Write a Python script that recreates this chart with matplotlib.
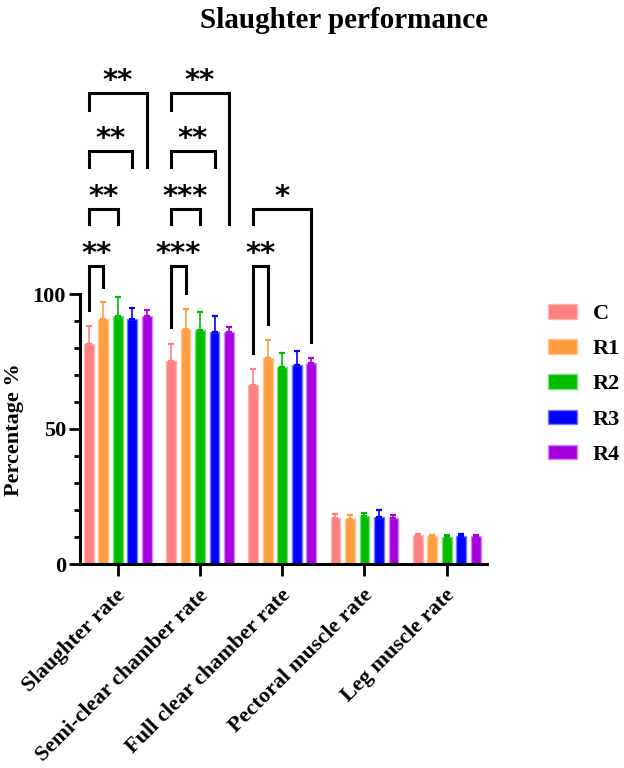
import numpy as np
import matplotlib
matplotlib.use('Agg')
import matplotlib.pyplot as plt
from matplotlib.patches import Patch
from matplotlib.transforms import ScaledTranslation

plt.rcParams['font.family'] = ['Liberation Serif', 'DejaVu Serif']
plt.rcParams['font.weight'] = 'bold'

# data
categories = ['Slaughter rate', 'Semi-clear chamber rate', 'Full clear chamber rate',
              'Pectoral muscle rate', 'Leg muscle rate']
groups = ['C', 'R1', 'R2', 'R3', 'R4']
mean_C = [81.5, 75.3, 66.4, 17.2, 10.7]
mean_R1 = [90.9, 87.2, 76.3, 16.7, 10.4]
mean_R2 = [92.0, 86.8, 73.0, 17.6, 10.1]
mean_R3 = [90.9, 85.9, 73.7, 17.5, 10.4]
mean_R4 = [92.0, 85.9, 74.4, 17.0, 10.2]
sd_C = [6.8, 6.3, 5.8, 1.4, 0.5]
sd_R1 = [6.0, 7.2, 6.7, 1.4, 0.5]
sd_R2 = [6.8, 6.4, 5.3, 1.4, 0.5]
sd_R3 = [3.8, 6.0, 5.1, 2.4, 0.6]
sd_R4 = [2.2, 2.0, 2.0, 1.0, 0.7]

# significance brackets: category, group a, group b, label, top, leg ends
sig_cat = [0, 0, 0, 0, 1, 1, 1, 1, 2, 2]
sig_a = [0, 0, 0, 0, 0, 0, 0, 0, 0, 0]
sig_b = [1, 2, 3, 4, 1, 2, 3, 4, 1, 4]
sig_text = ['**', '**', '**', '**', '***', '***', '**', '**', '**', '*']
sig_top = [110.4, 131.6, 153.0, 174.3, 110.4, 131.6, 153.0, 174.3, 110.4, 131.6]
sig_left_end = [94.1, 125.9, 147.1, 168.1, 87.8, 125.9, 147.1, 168.1, 78.0, 125.9]
sig_right_end = [102.6, 125.9, 147.1, 147.1, 100.4, 125.9, 147.1, 125.9, 88.9, 82.3]

means = [mean_C, mean_R1, mean_R2, mean_R3, mean_R4]
sds = [sd_C, sd_R1, sd_R2, sd_R3, sd_R4]
colors = ['#FF8080', '#FF9E40', '#00BD00', '#0000FF', '#A600E0']
edges = ['#FFB4B4', '#FFC88F', '#7ADC7A', '#7878FF', '#D088F2']

fig = plt.figure(figsize=(6.24, 7.68), dpi=100)
ax = fig.add_axes([80/624, 204/768, 407/624, 190*2.7/768])

x = np.arange(len(categories))
step = 0.1763
width = 0.118
for i, g in enumerate(groups):
    xs = x + (i - 2) * step
    ax.bar(xs, means[i], width, color=colors[i], edgecolor=edges[i], linewidth=1.0, zorder=2)
    ax.errorbar(xs, means[i], yerr=[np.zeros(len(xs)), sds[i]], fmt='none',
                ecolor=colors[i], elinewidth=1.2, capsize=2.3, capthick=1.6, zorder=3)

# brackets
for k in range(len(sig_cat)):
    xa = sig_cat[k] + (sig_a[k] - 2) * step
    xb = sig_cat[k] + (sig_b[k] - 2) * step
    top = sig_top[k]
    ax.plot([xa, xa, xb, xb], [sig_left_end[k], top, top, sig_right_end[k]],
            color='black', lw=2.2, solid_joinstyle='miter', clip_on=False, zorder=4)
    ax.text((xa + xb) / 2, top + 1.5, sig_text[k], ha='center', va='baseline',
            fontsize=21, fontweight='bold', family=['DejaVu Sans'], clip_on=False)

ax.set_xlim(-0.46, 4.49)
ax.set_ylim(0, 190)
ax.spines['top'].set_visible(False)
ax.spines['right'].set_visible(False)
ax.spines['left'].set_bounds(0, 100)
ax.spines['left'].set_linewidth(2.2)
ax.spines['bottom'].set_linewidth(2.2)
ax.set_yticks([0, 50, 100])
ax.set_yticks([v for v in range(10, 100, 10) if v != 50], minor=True)
ax.tick_params(axis='y', which='major', length=8, width=2.0, labelsize=16, pad=2)
ax.tick_params(axis='y', which='minor', length=4.5, width=2.0)
ax.set_xticks(x)
ax.set_xticklabels(categories, rotation=45, ha='right', va='center', rotation_mode='anchor')
ax.tick_params(axis='x', which='major', length=8.5, width=2.0, labelsize=16, pad=12)
shift = ScaledTranslation(5/100, 0, fig.dpi_scale_trans)
for lab in ax.get_xticklabels():
    lab.set_transform(lab.get_transform() + shift)
for lab in ax.get_yticklabels() + ax.get_xticklabels():
    lab.set_fontweight('bold')

fig.text(14/624, 1 - 430/768, 'Percentage %', rotation=90, ha='center', va='center',
         fontsize=16, fontweight='bold')
fig.text(344/624, 1 - 20/768, 'Slaughter performance', ha='center', va='center',
         fontsize=21, fontweight='bold')

handles = [Patch(facecolor=colors[i], edgecolor=edges[i], linewidth=1.0) for i in range(len(groups))]
fig.legend(handles, groups, loc='upper left', bbox_to_anchor=(548/624, 1 - 304/768),
           frameon=False, prop={'weight': 'bold', 'size': 16},
           handlelength=1.3, handleheight=0.63, labelspacing=0.68, handletextpad=0.72,
           borderpad=0, borderaxespad=0)

plt.savefig('out.png', dpi=100)
